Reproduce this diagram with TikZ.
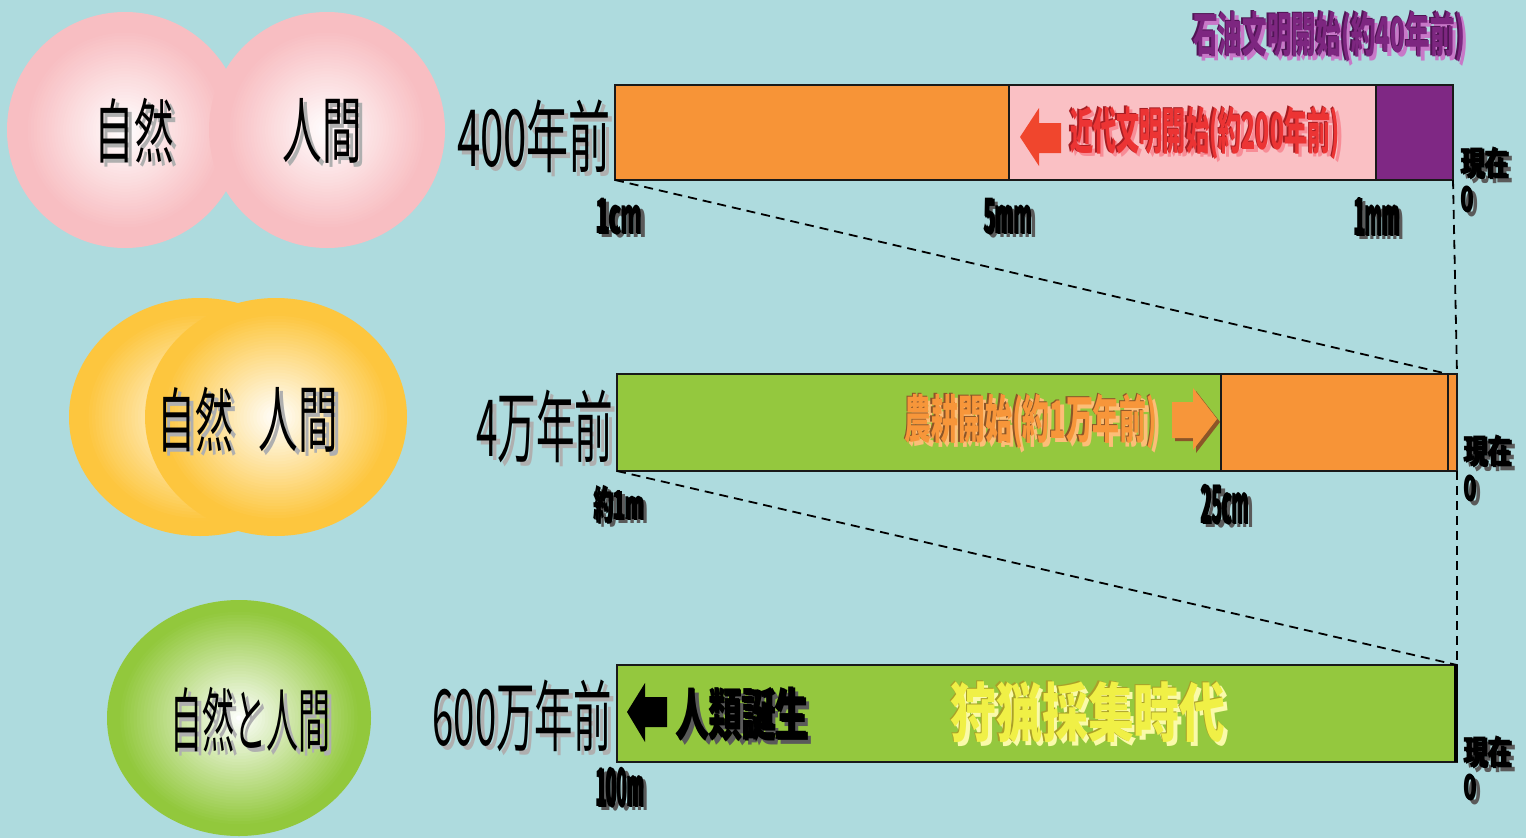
\documentclass[tikz,border=0pt]{standalone}
\usepackage{fontspec}
\usepackage{graphicx}
\newfontfamily\jp{Noto Sans CJK JP}
\definecolor{bg}{RGB}{174,219,222}
\definecolor{barorange}{RGB}{247,148,55}
\definecolor{barpink}{RGB}{250,192,196}
\definecolor{barpurple}{RGB}{127,40,132}
\definecolor{bargreen}{RGB}{148,200,62}
\definecolor{ballpink}{RGB}{248,190,194}
\definecolor{ballorange}{RGB}{253,198,62}
\definecolor{ballgreen}{RGB}{146,200,60}
\definecolor{txtred}{RGB}{236,52,52}
\definecolor{txtreddark}{RGB}{165,30,35}
\definecolor{txtredlight}{RGB}{248,140,150}
\definecolor{txtpurple}{RGB}{125,38,128}
\definecolor{txtpurpledark}{RGB}{80,20,85}
\definecolor{txtpurplelight}{RGB}{200,120,200}
\definecolor{txtorange}{RGB}{247,150,58}
\definecolor{txtorangedark}{RGB}{140,85,40}
\definecolor{txtorangelight}{RGB}{252,190,120}
\definecolor{txtyellow}{RGB}{240,240,70}
\definecolor{txtyellowdark}{RGB}{170,160,40}
\definecolor{txtyellowlight}{RGB}{250,250,170}
\definecolor{shgray}{RGB}{175,175,175}
\definecolor{shdark}{RGB}{90,90,90}
\definecolor{arrowred}{RGB}{240,70,45}
\tikzset{
  txt/.style={inner sep=0pt, outer sep=0pt, anchor=center, font=\jp\bfseries\fontsize{40}{40}\selectfont},
  txtreg/.style={txt, font=\jp\fontsize{40}{40}\selectfont},
  barcell/.style={draw=black!90, line width=1.3pt, inner sep=0pt, outer sep=0pt, anchor=north west},
  zoomline/.style={line width=1.8pt, dash pattern=on 9pt off 6pt},
}
% radial glow drawn as concentric ellipses: #1 centre x,y  #2 x radius  #3 y radius  #4 edge colour  #5 fraction where full colour is reached
\newcommand{\ballfill}[5]{%
  \foreach \k in {0,...,39}{%
    \pgfmathsetmacro{\t}{1-\k/40}%
    \pgfmathsetmacro{\p}{min(100,\t*100/#5)}%
    \fill[#4!\p!white] (#1) ellipse [x radius={\t*#2pt}, y radius={\t*#3pt}];
  }%
  \fill[white] (#1) ellipse [x radius={0.02*#2pt}, y radius={0.02*#3pt}];}
% #1 name, #2 x,y, #3 W, #4 H, #5 main colour, #6 dark shadow, #7 light shadow, #8 text
\newcommand{\shtxt}[8]{%
  \node[txt, text=#7, xshift=3.5pt, yshift=-3.5pt] (#1-l) at (#2) {\resizebox*{#3pt}{#4pt}{#8}};
  \node[txt, text=#6, xshift=-1.5pt, yshift=1pt] (#1-d) at (#2) {\resizebox*{#3pt}{#4pt}{#8}};
  \node[txt, text=#5] (#1) at (#2) {\resizebox*{#3pt}{#4pt}{#8}};}
% regular weight, single light shadow: #1 name, #2 x,y, #3 W, #4 H, #5 text
\newcommand{\regtxt}[5]{%
  \node[txtreg, text=shgray, xshift=4pt, yshift=-4pt] (#1-l) at (#2) {\resizebox*{#3pt}{#4pt}{#5}};
  \node[txtreg, text=black] (#1) at (#2) {\resizebox*{#3pt}{#4pt}{#5}};}
\begin{document}
\begin{tikzpicture}[x=1pt,y=-1pt]
\fill[bg] (0,0) rectangle (1526,838);
\useasboundingbox (0,0) rectangle (1526,838);

% balls
\ballfill{125,130}{118}{118}{ballpink}{0.85}
\ballfill{327,130}{118}{118}{ballpink}{0.85}
\ballfill{200,417}{131}{119}{ballorange}{0.88}
\ballfill{276,417}{131}{119}{ballorange}{0.88}
\ballfill{239,718}{132}{118}{ballgreen}{0.92}

\regtxt{nat1}{134,131}{79}{65}{自然}
\regtxt{hum1}{322,131}{79}{65}{人間}
\regtxt{nat2}{195,420}{76}{65}{自然}
\regtxt{hum2}{298,420}{79}{65}{人間}
\regtxt{natto}{250,720}{160}{65}{自然と人間}

% period labels
\regtxt{y400}{534,136}{154}{73}{400年前}
\regtxt{y4man}{545,426}{137}{73}{4万年前}
\regtxt{y600}{522,716}{179}{72}{600万年前}

% bar 1
\node[barcell, fill=barorange, minimum width=394pt, minimum height=95pt] (b1a) at (615,85) {};
\node[barcell, fill=barpink, minimum width=367pt, minimum height=95pt] (b1b) at (1009,85) {};
\node[barcell, fill=barpurple, minimum width=77pt, minimum height=95pt] (b1c) at (1376,85) {};
% bar 2
\node[barcell, fill=bargreen, minimum width=604pt, minimum height=97pt] (b2a) at (617,374) {};
\node[barcell, fill=barorange, minimum width=227pt, minimum height=97pt] (b2b) at (1221,374) {};
\node[barcell, fill=barorange, minimum width=9pt, minimum height=97pt] (b2c) at (1448,374) {};
% bar 3
\node[barcell, fill=bargreen, minimum width=840pt, minimum height=97pt] (b3) at (617,665) {};
\draw[line width=3.5pt] ([xshift=-1pt]b3.north east) -- ([xshift=-1pt]b3.south east);

% zoom lines
\draw[zoomline] (b1a.south west) -- (b2c.north west);
\draw[zoomline] (b1c.south east) -- (b2c.north east);
\draw[zoomline] (b2a.south west) -- (b3.north east);
\draw[zoomline] (b2c.south east) -- (b3.north east);

% arrows
\fill[arrowred] (1020,137) -- (1039,108) -- (1039,123) -- (1061,123) -- (1061,153) -- (1039,153) -- (1039,166) -- cycle;
\fill[black] (627,712) -- (645,683) -- (645,697) -- (667,697) -- (667,727) -- (645,727) -- (645,742) -- cycle;
\fill[txtorangedark] (1175,405) -- (1196,405) -- (1196,391) -- (1220,422) -- (1196,453) -- (1196,441) -- (1175,441) -- cycle;
\fill[txtorange] (1172,402) -- (1193,402) -- (1193,388) -- (1217,419) -- (1193,450) -- (1193,438) -- (1172,438) -- cycle;

% event texts
\shtxt{sekiyu}{1329,37}{272}{51}{txtpurple}{txtpurpledark}{txtpurplelight}{石油文明開始(約40年前)}
\shtxt{kindai}{1205,133}{270}{53}{txtred}{txtreddark}{txtredlight}{近代文明開始(約200年前)}
\shtxt{noukou}{1031,422}{253}{55}{txtorange}{txtorangedark}{txtorangelight}{農耕開始(約1万年前)}
\shtxt{jinrui}{743,715}{133}{54}{black}{black}{shdark}{人類誕生}
\shtxt{shuryo}{1088,713}{275}{62}{txtyellow}{txtyellowdark}{txtyellowlight}{狩猟採集時代}

% scale labels
\shtxt{l1cm}{620,217}{46}{36}{black}{black}{shdark}{1cm}
\shtxt{l5mm}{1009,217}{48}{36}{black}{black}{shdark}{5mm}
\shtxt{l1mm}{1378,217}{46}{38}{black}{black}{shdark}{1mm}
\shtxt{l1m}{620,505}{50}{38}{black}{black}{shdark}{約1m}
\shtxt{l25cm}{1226,505}{48}{40}{black}{black}{shdark}{25cm}
\shtxt{l100m}{621,788}{48}{40}{black}{black}{shdark}{100m}

\shtxt{now1}{1486,164}{48}{32}{black}{black}{shdark}{現在}
\shtxt{zero1}{1468,200}{13}{26}{black}{black}{shdark}{0}
\shtxt{now2}{1489,452}{48}{32}{black}{black}{shdark}{現在}
\shtxt{zero2}{1471,489}{13}{26}{black}{black}{shdark}{0}
\shtxt{now3}{1489,753}{48}{32}{black}{black}{shdark}{現在}
\shtxt{zero3}{1471,788}{13}{26}{black}{black}{shdark}{0}
\end{tikzpicture}
\end{document}
